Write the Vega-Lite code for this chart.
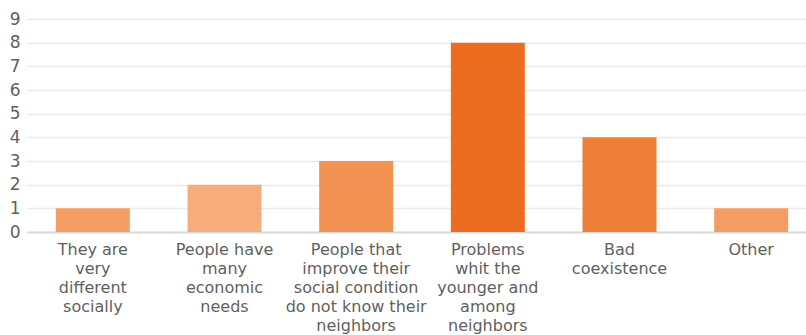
{
  "$schema": "https://vega.github.io/schema/vega-lite/v6.json",
  "width": 790,
  "height": 213,
  "autosize": {"type": "none"},
  "padding": {"left": 27, "top": 19, "right": 0, "bottom": 103},
  "background": "white",
  "data": {
    "values": [
      {"reason": "They are|very|different|socially", "count": 1},
      {"reason": "People have|many|economic|needs", "count": 2},
      {"reason": "People that|improve their|social condition|do not know their|neighbors", "count": 3},
      {"reason": "Problems|whit the|younger and|among|neighbors", "count": 8},
      {"reason": "Bad|coexistence", "count": 4},
      {"reason": "Other", "count": 1}
    ]
  },
  "config": {
    "view": {"stroke": null},
    "font": "DejaVu Sans"
  },
  "mark": {"type": "bar", "width": 74},
  "encoding": {
    "x": {
      "field": "reason",
      "type": "nominal",
      "sort": null,
      "scale": {"paddingInner": 0, "paddingOuter": 0},
      "axis": {
        "title": null,
        "labelAngle": 0,
        "labelExpr": "split(datum.value, '|')",
        "labelFontSize": 16,
        "labelColor": "#5f5f5f",
        "labelLineHeight": 19,
        "labelPadding": 9,
        "labelBaseline": "top",
        "ticks": false,
        "domainColor": "#d9d9d9",
        "domainWidth": 2,
        "labelFont": "DejaVu Sans"
      }
    },
    "y": {
      "field": "count",
      "type": "quantitative",
      "scale": {"domain": [0, 9], "nice": false},
      "axis": {
        "title": null,
        "values": [0, 1, 2, 3, 4, 5, 6, 7, 8, 9],
        "domain": false,
        "ticks": false,
        "labelPadding": 7,
        "labelFontSize": 17,
        "labelColor": "#5f5f5f",
        "gridColor": "#e9e9e9",
        "gridWidth": 1.5,
        "labelFont": "DejaVu Sans"
      }
    },
    "color": {
      "field": "reason",
      "type": "nominal",
      "legend": null,
      "scale": {
        "domain": [
          "They are|very|different|socially",
          "People have|many|economic|needs",
          "People that|improve their|social condition|do not know their|neighbors",
          "Problems|whit the|younger and|among|neighbors",
          "Bad|coexistence",
          "Other"
        ],
        "range": ["#f49d62", "#f6ad7b", "#f29353", "#ec6c22", "#ee7f38", "#f49d62"]
      }
    }
  }
}
